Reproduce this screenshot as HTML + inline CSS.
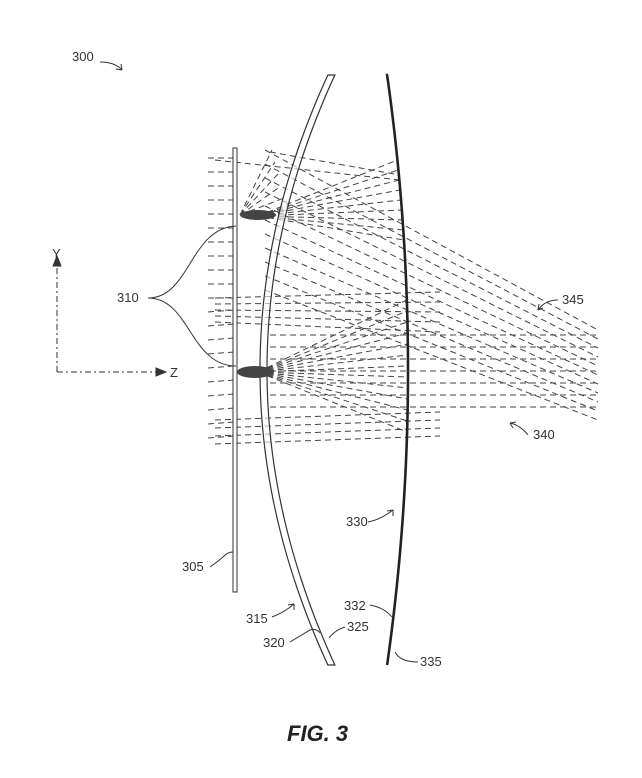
<!DOCTYPE html>
<html><head><meta charset="utf-8"><style>
html,body{margin:0;padding:0;background:#fff;}
svg{display:block;}
text{font-family:"Liberation Sans",sans-serif;font-size:13px;fill:#333;}
</style></head><body>
<svg id="s" width="642" height="778" viewBox="0 0 642 778" xmlns="http://www.w3.org/2000/svg">
<g id="rays" stroke="#444" stroke-width="1" stroke-dasharray="6,4" fill="none"></g>
<rect x="233" y="148" width="4" height="444" fill="#fff" stroke="#333" stroke-width="1"/>
<path id="lens" fill="#fff" fill-opacity="0.6" stroke="#333" stroke-width="1.2"/>
<path id="surf" fill="none" stroke="#222" stroke-width="2.6"/>
<ellipse cx="258" cy="215" rx="18" ry="5" fill="#444"/>
<ellipse cx="255" cy="372" rx="18" ry="6" fill="#444"/>
<g fill="none" stroke="#333" stroke-width="1">
<path d="M100,62 Q115,62 122,70"/><path d="M122,70 l-6,-1 M122,70 l-1,-6"/>
<path d="M148,298 C190,298 190,228 236,226"/>
<path d="M148,298 C190,298 190,366 236,366"/>
<path d="M57,372 L57,258" stroke-dasharray="6,3,2,3"/><path d="M53,266 L57,256 L61,266Z" fill="#333"/>
<path d="M57,372 L160,372" stroke-dasharray="6,3,2,3"/><path d="M156,368 L166,372 L156,376Z" fill="#333"/>
<path d="M210,567 Q220,560 224,556 Q228,552 233,552"/>
<path d="M272,617 Q285,612 294,604"/><path d="M294,604 l-6,1 M294,604 l0,6"/>
<path d="M290,642 Q300,636 310,630 Q316,628 320,633"/>
<path d="M345,627 Q335,630 329,638"/>
<path d="M368,522 Q380,520 393,510"/><path d="M393,510 l-6,1 M393,510 l0,6"/>
<path d="M370,605 Q385,608 392,617"/>
<path d="M418,662 Q400,662 395,652"/>
<path d="M528,435 Q520,425 510,423"/><path d="M510,423 l6,-1 M510,423 l3,5"/>
<path d="M558,300 Q545,300 538,310"/><path d="M538,310 l1,-6 M538,310 l5,-2"/>
</g>
<text x="72" y="61">300</text>
<text x="117" y="302">310</text>
<text x="52" y="258">Y</text>
<text x="170" y="377">Z</text>
<text x="182" y="571">305</text>
<text x="246" y="623">315</text>
<text x="263" y="647">320</text>
<text x="347" y="631">325</text>
<text x="346" y="526">330</text>
<text x="344" y="610">332</text>
<text x="420" y="666">335</text>
<text x="533" y="439">340</text>
<text x="562" y="304">345</text>
<text x="287" y="741" style="font-size:22px;font-weight:bold;font-style:italic;fill:#222">FIG. 3</text>
</svg>
<script>
var ns="http://www.w3.org/2000/svg";
function L(g,x1,y1,x2,y2){var l=document.createElementNS(ns,"line");l.setAttribute("x1",x1);l.setAttribute("y1",y1);l.setAttribute("x2",x2);l.setAttribute("y2",y2);g.appendChild(l);}
var g=document.getElementById("rays");
function lx(y){return 260+0.00078*(y-370)*(y-370);}
function sx(y){return 408-0.00024*(y-370)*(y-370);}
var d="M"+lx(75)+",75";for(var y=75;y<=665;y+=5)d+=" L"+lx(y)+","+y;
d+=" L"+(lx(665)+7)+",665";for(y=665;y>=75;y-=5)d+=" L"+(lx(y)+7)+","+y;d+="Z";
document.getElementById("lens").setAttribute("d",d);
var d2="M388,75";for(y=75;y<=665;y+=5)d2+=" L"+sx(y)+","+y;
document.getElementById("surf").setAttribute("d",d2);
for(y=158;y<=446;y+=14){L(g,208,y,234,y+(y>300?-2:0));}
for(var i=0;i<9;i++){var ty=160+i*10;L(g,258,216,sx(ty),ty);}
for(i=0;i<6;i++){L(g,240,215,272+i*3,150+i*12);}
L(g,215,160,400,180);L(g,270,152,400,175);
for(i=0;i<11;i++){var y0=150+i*14;L(g,265,y0,598,330+i*9);}
for(i=0;i<13;i++){var ty2=300+i*11;L(g,258,372,sx(ty2),ty2);}
for(i=0;i<7;i++){var yy=335+i*12;L(g,270,yy,598,yy);}
for(i=0;i<5;i++){L(g,215,298+i*6,440,300+i*6+(i-2)*4);}
for(i=0;i<4;i++){L(g,215,420+i*8,440,412+i*8);}
</script>
</body></html>
